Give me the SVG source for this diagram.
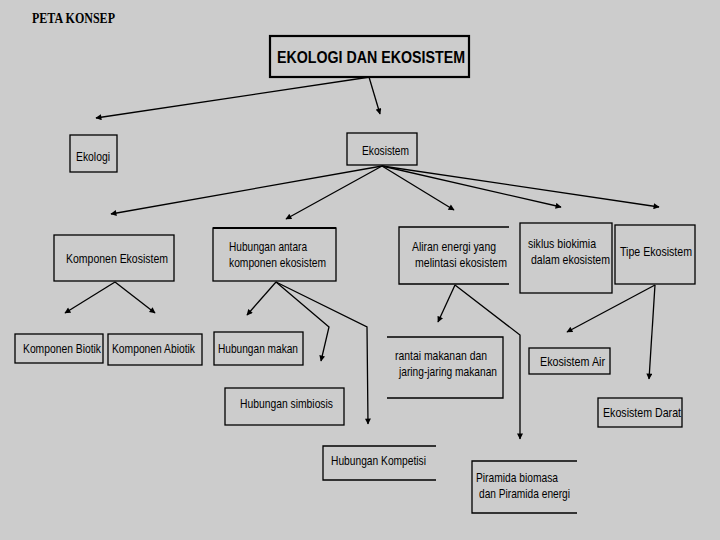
<svg xmlns="http://www.w3.org/2000/svg" width="720" height="540" viewBox="0 0 720 540">
<style>
.bg{fill:#cccccc}
.box{fill:none;stroke:#000;stroke-width:1.3}
.tbox{fill:none;stroke:#000;stroke-width:2.2}
.t{font-family:"Liberation Sans",Arial,sans-serif;font-size:13.5px;fill:#000}
.s{font-size:12px}
.tt{font-family:"Liberation Sans",Arial,sans-serif;font-size:17px;font-weight:bold;fill:#000}
.hd{font-family:"Liberation Serif","Times New Roman",serif;font-size:15px;font-weight:bold;fill:#000}
.c{fill:none;stroke:#000;stroke-width:1.3}
</style>
<defs>
<marker id="ah" viewBox="0 0 10 10" refX="9" refY="5" markerWidth="7" markerHeight="6" markerUnits="userSpaceOnUse" orient="auto">
<path d="M0,0 L10,5 L0,10 z" fill="#000"/>
</marker>
</defs>
<rect class="bg" x="0" y="0" width="720" height="540"/>
<text class="hd" x="32" y="23" textLength="83" lengthAdjust="spacingAndGlyphs">PETA KONSEP</text>

<g id="n-title"><rect class="tbox" x="270" y="36" width="199" height="41"/><text class="tt" x="277" y="63" textLength="188" lengthAdjust="spacingAndGlyphs">EKOLOGI DAN EKOSISTEM</text></g>
<g id="n-ekologi"><rect class="box" x="70" y="135" width="47" height="37"/><text class="t" x="76" y="161" textLength="34" lengthAdjust="spacingAndGlyphs">Ekologi</text></g>
<g id="n-ekosistem"><rect class="box" x="347" y="133" width="70" height="32"/><text class="t" x="362" y="155" textLength="47" lengthAdjust="spacingAndGlyphs">Ekosistem</text></g>
<g id="n-komponen"><rect class="box" x="54" y="235" width="120" height="46"/><text class="t" x="66" y="263" textLength="102" lengthAdjust="spacingAndGlyphs">Komponen Ekosistem</text></g>
<g id="n-hubungan"><rect class="box" x="213" y="228" width="123" height="53"/><line x1="213" y1="228" x2="336" y2="228" stroke="#000" stroke-width="2"/><text class="t" x="229" y="251" textLength="78" lengthAdjust="spacingAndGlyphs">Hubungan antara</text><text class="t" x="229" y="267" textLength="97" lengthAdjust="spacingAndGlyphs">komponen ekosistem</text></g>
<g id="n-aliran"><path class="box" d="M509,227 H399 V284 H509"/><text class="t" x="412" y="251" textLength="84" lengthAdjust="spacingAndGlyphs">Aliran energi yang</text><text class="t" x="415" y="267" textLength="92" lengthAdjust="spacingAndGlyphs">melintasi ekosistem</text></g>
<g id="n-siklus"><rect class="box" x="520" y="223" width="92" height="70"/><text class="t" x="528" y="248" textLength="68" lengthAdjust="spacingAndGlyphs">siklus biokimia</text><text class="t" x="531" y="264" textLength="79" lengthAdjust="spacingAndGlyphs">dalam ekosistem</text></g>
<g id="n-tipe"><rect class="box" x="615" y="225" width="80" height="59"/><text class="t" x="620" y="256" textLength="72" lengthAdjust="spacingAndGlyphs">Tipe Ekosistem</text></g>
<g id="n-biotik"><rect class="box" x="15" y="334" width="88" height="29"/><text class="t s" x="23" y="353" textLength="78" lengthAdjust="spacingAndGlyphs">Komponen Biotik</text></g>
<g id="n-abiotik"><rect class="box" x="108" y="334" width="94" height="31"/><text class="t s" x="112" y="353" textLength="83" lengthAdjust="spacingAndGlyphs">Komponen Abiotik</text></g>
<g id="n-makan"><rect class="box" x="214" y="332" width="89" height="33"/><text class="t" x="218" y="353" textLength="80" lengthAdjust="spacingAndGlyphs">Hubungan makan</text></g>
<g id="n-simbiosis"><rect class="box" x="225" y="388" width="119" height="37"/><text class="t" x="240" y="408" textLength="93" lengthAdjust="spacingAndGlyphs">Hubungan simbiosis</text></g>
<g id="n-kompetisi"><path class="box" d="M436,446 H323 V480 H436"/><text class="t" x="331" y="465" textLength="95" lengthAdjust="spacingAndGlyphs">Hubungan Kompetisi</text></g>
<g id="n-rantai"><path class="box" d="M387,337 H503 V398 H387"/><text class="t" x="395" y="360" textLength="92" lengthAdjust="spacingAndGlyphs">rantai makanan dan</text><text class="t" x="399" y="376" textLength="98" lengthAdjust="spacingAndGlyphs">jaring-jaring makanan</text></g>
<g id="n-air"><rect class="box" x="529" y="348" width="81" height="26"/><text class="t" x="540" y="366" textLength="65" lengthAdjust="spacingAndGlyphs">Ekosistem Air</text></g>
<g id="n-darat"><rect class="box" x="598" y="398" width="84" height="29"/><text class="t" x="603" y="417" textLength="78" lengthAdjust="spacingAndGlyphs">Ekosistem Darat</text></g>
<g id="n-piramida"><path class="box" d="M577,461 H472 V513 H577"/><text class="t" x="476" y="482" textLength="82" lengthAdjust="spacingAndGlyphs">Piramida biomasa</text><text class="t" x="479" y="498" textLength="91" lengthAdjust="spacingAndGlyphs">dan Piramida energi</text></g>

<g id="connectors">
<line class="c" x1="370" y1="77" x2="96" y2="118" marker-end="url(#ah)"/>
<line class="c" x1="369" y1="77" x2="380" y2="114" marker-end="url(#ah)"/>
<line class="c" x1="382" y1="166" x2="111" y2="214" marker-end="url(#ah)"/>
<line class="c" x1="382" y1="166" x2="286" y2="219" marker-end="url(#ah)"/>
<line class="c" x1="382" y1="166" x2="454" y2="210" marker-end="url(#ah)"/>
<line class="c" x1="382" y1="166" x2="561" y2="207" marker-end="url(#ah)"/>
<line class="c" x1="382" y1="166" x2="659" y2="207" marker-end="url(#ah)"/>
<line class="c" x1="115" y1="282" x2="65" y2="313" marker-end="url(#ah)"/>
<line class="c" x1="115" y1="282" x2="155" y2="313" marker-end="url(#ah)"/>
<line class="c" x1="276" y1="282" x2="247" y2="315" marker-end="url(#ah)"/>
<polyline class="c" points="276,282 329,327 321,361" marker-end="url(#ah)"/>
<polyline class="c" points="276,282 367,327 368,424" marker-end="url(#ah)"/>
<line class="c" x1="455" y1="285" x2="438" y2="322" marker-end="url(#ah)"/>
<polyline class="c" points="455,285 520,335 520,439" marker-end="url(#ah)"/>
<line class="c" x1="655" y1="285" x2="567" y2="332" marker-end="url(#ah)"/>
<line class="c" x1="655" y1="285" x2="649" y2="379" marker-end="url(#ah)"/>
</g>
</svg>
